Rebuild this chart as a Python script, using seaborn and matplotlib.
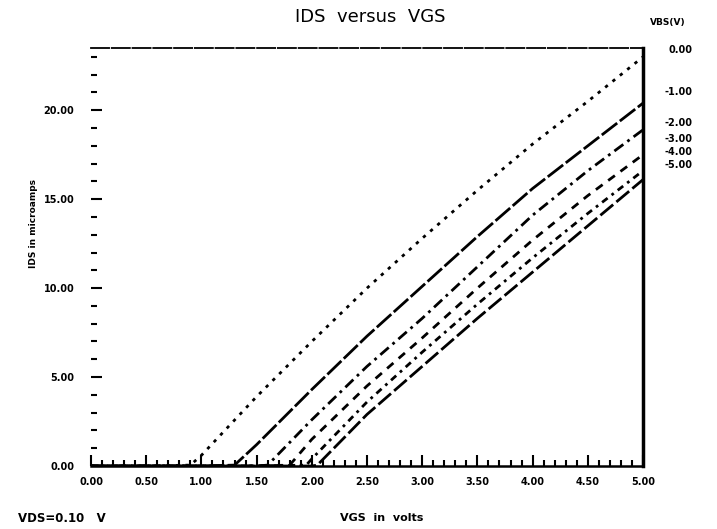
import matplotlib
matplotlib.use("Agg")
import matplotlib.pyplot as plt
import seaborn as sns
import pandas as pd
from matplotlib.ticker import MultipleLocator, FormatStrFormatter

# ---- data ----
vbs_labels = ["0.00", "-1.00", "-2.00", "-3.00", "-4.00", "-5.00"]

vgs_0 = [0.0, 0.5, 0.9, 1.0, 1.5, 2.0, 2.5, 3.0, 3.5, 4.0, 4.5, 5.0]
ids_0 = [0.0, 0.0, 0.05, 0.6, 3.9, 7.0, 10.0, 12.8, 15.5, 18.1, 20.5, 23.0]

vgs_1 = [0.0, 0.5, 1.0, 1.3, 1.5, 2.0, 2.5, 3.0, 3.5, 4.0, 4.5, 5.0]
ids_1 = [0.0, 0.0, 0.0, 0.05, 1.2, 4.3, 7.3, 10.1, 12.9, 15.6, 18.0, 20.4]

vgs_2 = [0.0, 0.5, 1.0, 1.5, 1.6, 2.0, 2.5, 3.0, 3.5, 4.0, 4.5, 5.0]
ids_2 = [0.0, 0.0, 0.0, 0.0, 0.05, 2.6, 5.6, 8.3, 11.2, 14.1, 16.6, 18.9]

vgs_3 = [0.0, 0.5, 1.0, 1.5, 1.8, 2.0, 2.5, 3.0, 3.5, 4.0, 4.5, 5.0]
ids_3 = [0.0, 0.0, 0.0, 0.0, 0.05, 1.5, 4.5, 7.2, 10.0, 12.7, 15.2, 17.5]

vgs_4 = [0.0, 0.5, 1.0, 1.5, 1.95, 2.0, 2.5, 3.0, 3.5, 4.0, 4.5, 5.0]
ids_4 = [0.0, 0.0, 0.0, 0.0, 0.05, 0.4, 3.6, 6.4, 9.1, 11.7, 14.2, 16.6]

vgs_5 = [0.0, 0.5, 1.0, 1.5, 2.0, 2.05, 2.5, 3.0, 3.5, 4.0, 4.5, 5.0]
ids_5 = [0.0, 0.0, 0.0, 0.0, 0.0, 0.05, 2.9, 5.6, 8.3, 10.9, 13.5, 16.1]

label_y = [23.4, 21.0, 19.3, 18.4, 17.65, 16.9]

x_ticks = [0.0, 0.5, 1.0, 1.5, 2.0, 2.5, 3.0, 3.5, 4.0, 4.5, 5.0]
y_ticks = [0.0, 5.0, 10.0, 15.0, 20.0]

# ---- build long-form table ----
all_vgs = [vgs_0, vgs_1, vgs_2, vgs_3, vgs_4, vgs_5]
all_ids = [ids_0, ids_1, ids_2, ids_3, ids_4, ids_5]
rows = []
for lab, xs, ys in zip(vbs_labels, all_vgs, all_ids):
    for x, y in zip(xs, ys):
        rows.append({"VBS": lab, "VGS": x, "IDS": y})
df = pd.DataFrame(rows)

sns.set_style("white")
plt.rcParams["font.family"] = ["DejaVu Sans"]
plt.rcParams["text.color"] = "black"
plt.rcParams["xtick.color"] = "black"
plt.rcParams["ytick.color"] = "black"

fig = plt.figure(figsize=(7.17, 5.29), dpi=100)
ax = fig.add_axes([91 / 717, 1 - 466 / 529, (643 - 91) / 717, (466 - 48) / 529])

dash_styles = [(1.2, 2.2), (7, 1.2), (4, 1.8, 1, 1.8), (3, 2.5), (2.5, 1.8, 1, 1.8), (6, 1.5)]
sns.lineplot(data=df, x="VGS", y="IDS", style="VBS", style_order=vbs_labels,
             dashes=dash_styles, color="black", linewidth=2.0, legend=False,
             ax=ax, estimator=None, sort=True)

ax.set_xlim(0, 5.0)
ax.set_ylim(0, 23.5)
ax.set_xticks(x_ticks)
ax.set_yticks(y_ticks)
ax.xaxis.set_minor_locator(MultipleLocator(0.1))
ax.yaxis.set_minor_locator(MultipleLocator(1.0))
ax.xaxis.set_major_formatter(FormatStrFormatter("%.2f"))
ax.yaxis.set_major_formatter(FormatStrFormatter("%.2f"))
ax.tick_params(axis="both", which="major", direction="in", length=8, width=1.5,
               colors="black", labelsize=7)
ax.tick_params(axis="both", which="minor", direction="in", length=4, width=1.5,
               colors="black")
ax.tick_params(axis="x", which="major", pad=8)
ax.tick_params(axis="y", which="major", pad=12)
ax.tick_params(axis="both", which="both", left=True, bottom=True)
for t in ax.get_xticklabels() + ax.get_yticklabels():
    t.set_fontweight("bold")

ax.spines["left"].set_visible(False)
ax.spines["top"].set_linewidth(1.3)
ax.spines["top"].set_linestyle((0, (10, 1.5)))
ax.spines["right"].set_linewidth(2.5)
ax.spines["bottom"].set_linewidth(1.8)
for s in ax.spines.values():
    s.set_color("black")
ax.set_xlabel("")
ax.set_ylabel("")

# curve labels at the right
for lab, yv in zip(vbs_labels, label_y):
    ax.text(5.45, yv, lab, ha="right", va="center", fontsize=7,
            fontweight="bold", clip_on=False)

fig.text(668 / 717, 1 - 22 / 529, "VBS(V)", ha="center", va="center",
         fontsize=6.5, fontweight="bold")
fig.text(370 / 717, 1 - 17 / 529, "IDS  versus  VGS", ha="center", va="center",
         fontsize=13)
fig.text(382 / 717, 1 - 518 / 529, "VGS  in  volts", ha="center", va="center",
         fontsize=8, fontweight="bold")
fig.text(18 / 717, 1 - 518 / 529, "VDS=0.10   V", ha="left", va="center",
         fontsize=8.5, fontweight="bold")
fig.text(33 / 717, 1 - 223 / 529, "IDS in microamps", ha="center", va="center",
         rotation=90, fontsize=6.5, fontweight="bold")

fig.savefig("out.png", dpi=100, facecolor="white")
